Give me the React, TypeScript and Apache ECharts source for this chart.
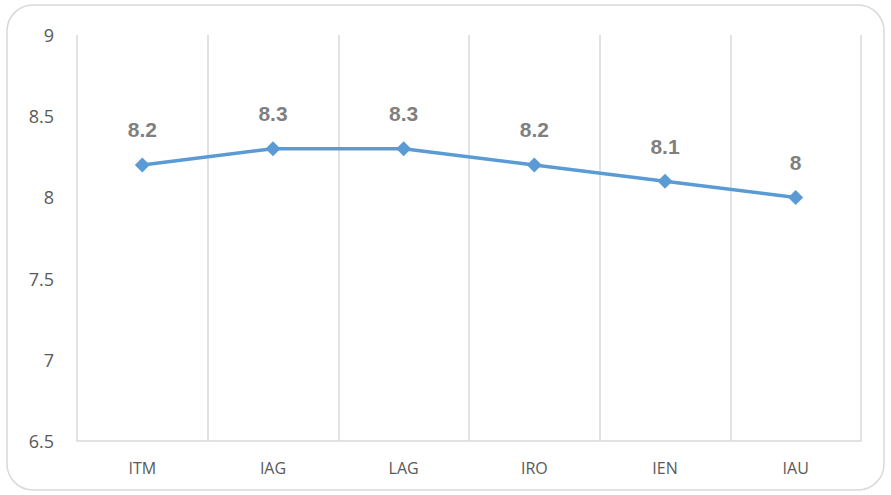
import React, { useEffect, useRef } from "react";
import * as echarts from "echarts";

const categories = ["ITM", "IAG", "LAG", "IRO", "IEN", "IAU"];
const values = [8.2, 8.3, 8.3, 8.2, 8.1, 8];
const yMin = 6.5;
const yMax = 9;
const yStep = 0.5;

export default function App() {
  const ref = useRef<HTMLDivElement>(null);
  useEffect(() => {
    if (!ref.current) return;
    const chart = echarts.init(ref.current, undefined, { renderer: "svg" });
    chart.setOption({
      animation: false,
      backgroundColor: "#ffffff",
      graphic: [
        {
          type: "rect",
          shape: { x: 7, y: 5, width: 877, height: 485, r: 26 },
          style: { fill: "none", stroke: "#d9d9d9", lineWidth: 1.5 },
          silent: true,
        },
      ],
      grid: { left: 77, right: 30, top: 35, bottom: 54, containLabel: false },
      xAxis: {
        type: "category",
        data: categories,
        boundaryGap: true,
        axisLine: { show: true, lineStyle: { color: "#d9d9d9", width: 1.5 } },
        axisTick: { show: false },
        splitLine: { show: true, interval: 0, lineStyle: { color: "#d9d9d9", width: 1.5 } },
        axisLabel: {
          color: "#595959",
          fontSize: 16,
          fontFamily: "Open Sans",
          margin: 19,
          interval: 0,
        },
      },
      yAxis: {
        type: "value",
        min: yMin,
        max: yMax,
        interval: yStep,
        axisLine: { show: false },
        axisTick: { show: false },
        splitLine: { show: false },
        axisLabel: {
          color: "#595959",
          fontSize: 18,
          fontFamily: "Open Sans",
          margin: 23,
        },
      },
      series: [
        {
          type: "line",
          data: values,
          symbol: "diamond",
          symbolSize: 15,
          itemStyle: { color: "#5B9BD5" },
          lineStyle: { color: "#5B9BD5", width: 3.5 },
          label: {
            show: true,
            position: "top",
            distance: 17,
            color: "#7f7f7f",
            fontWeight: "bold",
            fontSize: 21,
            fontFamily: "Liberation Sans",
          },
        },
      ],
    });
    return () => chart.dispose();
  }, []);
  return (
    <div
      ref={ref}
      style={{ position: "absolute", left: 0, top: 0, width: 891, height: 495 }}
    />
  );
}
